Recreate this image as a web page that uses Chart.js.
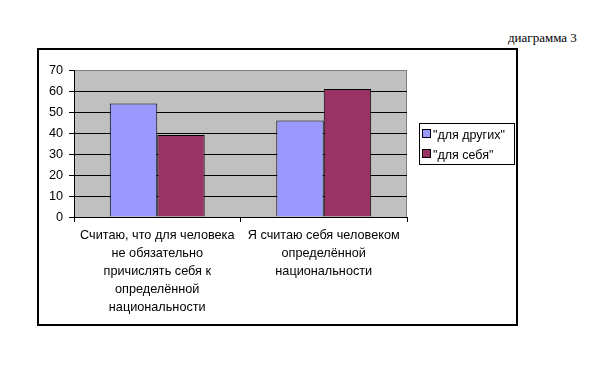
<!DOCTYPE html>
<html lang="ru">
<head>
<meta charset="UTF-8">
<title>диаграмма 3</title>
<script src="https://cdn.jsdelivr.net/npm/chart.js"></script>
<style>
body {
    margin: 0;
    width: 612px;
    height: 372px;
    background: #fff;
    position: relative;
    overflow: hidden;
    font-family: "Liberation Sans", Arial, sans-serif;
}
#frame {
    position: absolute;
    left: 37px; top: 48px;
    width: 481px; height: 278px;
    border: 2px solid #000;
    box-sizing: border-box;
}
#caption {
    position: absolute;
    left: 508px; top: 30px;
    font-family: "Liberation Serif", "Times New Roman", serif;
    font-size: 13px;
    color: #000;
}
#chartWrap { position: absolute; left: 0; top: 0; width: 612px; height: 372px; }
#legend {
    position: absolute;
    left: 419px; top: 123px;
    width: 96px; height: 42px;
    border: 1px solid #000;
    box-sizing: border-box;
    padding: 2px 0 0 2px;
    font-size: 12.5px;
    color: #000;
}
.item { height: 20px; line-height: 18px; white-space: nowrap; }
.box { display: inline-block; width: 7px; height: 7px; border: 1px solid #000; margin-right: 2px; vertical-align: 1px; }
</style>
</head>
<body>
<div id="frame"></div>
<div id="caption">диаграмма 3</div>
<div id="chartWrap"><canvas id="chart" width="612" height="372"></canvas></div>
<div id="legend"></div>

<script>
const categories=[
    ["Считаю, что для человека","не обязательно","причислять себя к","определённой","национальности"],
    ["Я считаю себя человеком","определённой","национальности"]
];
const seriesNames=['"для других"','"для себя"'];
const forOthers=[54,46];
const forSelf=[39,61];
const yTicks=[0,10,20,30,40,50,60,70];
const colors=["#9999FF","#993366"];

// gray plot background + gray top/right border
const plotBg={
    id:"plotBg",
    beforeDraw(c){
        const a=c.chartArea, ctx=c.ctx;
        ctx.save();
        ctx.fillStyle="#C0C0C0";
        ctx.fillRect(a.left,a.top,a.right-a.left,a.bottom-a.top);
        ctx.strokeStyle="#808080";
        ctx.lineWidth=1;
        ctx.beginPath();
        ctx.moveTo(a.left,a.top+0.5);
        ctx.lineTo(a.right-0.5,a.top+0.5);
        ctx.lineTo(a.right-0.5,a.bottom);
        ctx.stroke();
        ctx.restore();
    }
};

const ctx=document.getElementById("chart").getContext("2d");
const chart=new Chart(ctx,{
    type:"bar",
    data:{
        labels:categories,
        datasets:[
            {label:seriesNames[0], data:forOthers, backgroundColor:colors[0], borderColor:"#000", borderWidth:1},
            {label:seriesNames[1], data:forSelf, backgroundColor:colors[1], borderColor:"#000", borderWidth:1}
        ]
    },
    options:{
        responsive:false,
        animation:false,
        layout:{padding:{left:0,top:70,right:205,bottom:45}},
        plugins:{legend:{display:false},tooltip:{enabled:false}},
        datasets:{bar:{barPercentage:1,categoryPercentage:0.57}},
        scales:{
            x:{
                afterFit(s){ s.height=110; },
                grid:{drawOnChartArea:false,drawTicks:true,tickLength:5,color:"#000",offset:true},
                border:{color:"#000",width:1},
                ticks:{color:"#000",font:{family:"Liberation Sans",size:12.7,lineHeight:"18px"},maxRotation:0,autoSkip:false,padding:4}
            },
            y:{
                min:0,max:70,
                afterFit(s){ s.width=74; },
                afterBuildTicks(s){ s.ticks=yTicks.map(v=>({value:v})); },
                grid:{color:(c)=>c.tick && c.tick.value===70?"#808080":"#000",tickColor:"#000",tickLength:5},
                border:{color:"#000",width:1},
                ticks:{color:"#000",font:{family:"Liberation Sans",size:12.7},padding:6}
            }
        }
    },
    plugins:[plotBg]
});

const legend=document.getElementById("legend");
seriesNames.forEach((n,i)=>{
    const d=document.createElement("div");
    d.className="item";
    d.innerHTML='<span class="box" style="background:'+colors[i]+'"></span>'+n;
    legend.appendChild(d);
});
</script>
</body>
</html>
